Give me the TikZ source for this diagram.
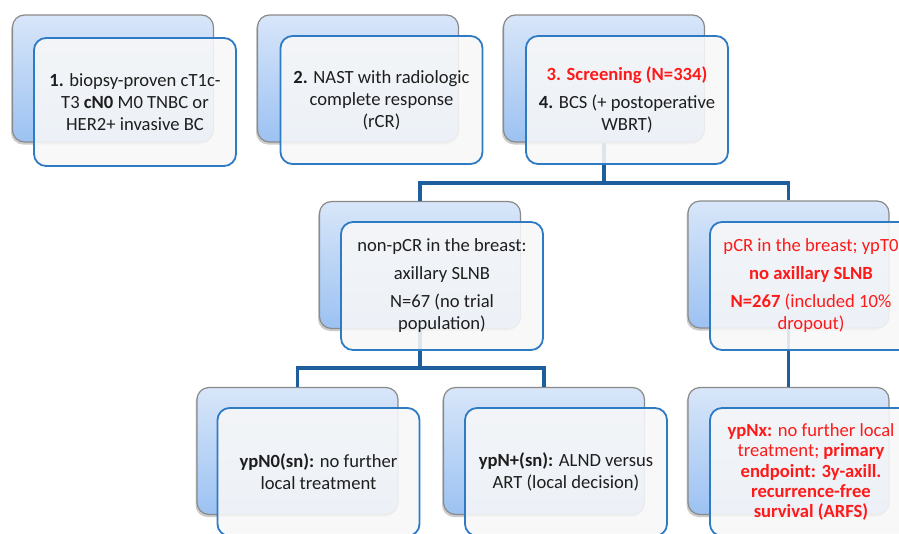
\documentclass[tikz,border=0pt]{standalone}
\usepackage{fontspec}
\setmainfont{Carlito}
\usetikzlibrary{shadows}
\definecolor{txt}{HTML}{1E1E1E}
\definecolor{red1}{HTML}{FF1A1A}
\definecolor{backline}{HTML}{8A8A8A}
\definecolor{frontline}{HTML}{2E7BC4}
\definecolor{conncol}{HTML}{1F5E9C}
\definecolor{topblue}{HTML}{D8E6F9}
\definecolor{botblue}{HTML}{9CC2F2}
\definecolor{frontfill}{HTML}{F8F8F8}
\tikzset{
 backbox/.style={draw=backline, line width=1.2pt, rounded corners=12pt, minimum width=201pt, minimum height=127pt, inner sep=0pt, top color=topblue, bottom color=botblue, drop shadow={shadow xshift=-1.5pt, shadow yshift=-2.5pt, opacity=0.4}},
 frontbox/.style={draw=frontline, line width=1.8pt, rounded corners=12pt, minimum width=202pt, minimum height=128pt, inner sep=4pt, fill=frontfill, fill opacity=0.88, text opacity=1, align=center, text=txt, font=\fontsize{18.6}{22}\selectfont},
 connector/.style={draw=conncol, line width=3.5pt},
}
\begin{document}
\begin{tikzpicture}[x=1pt,y=-1pt]
\useasboundingbox (0,0) rectangle (899,533);
\clip (0,0) rectangle (899,533);
\fill[white] (0,0) rectangle (899,533);
% back boxes
\node[backbox] (b1) at (113,78.5) {};
\node[backbox] (b2) at (358,78.5) {};
\node[backbox] (b3) at (604,78.5) {};
\node[backbox] (bA) at (420,265) {};
\node[backbox] (bB) at (788.5,264.5) {};
\node[backbox] (bC) at (297.5,451) {};
\node[backbox] (bD) at (544,451) {};
\node[backbox] (bE) at (788.5,451) {};
% connectors
\coordinate (j1) at (604,183);
\coordinate (j2) at (420,368);
\draw[connector] (b3.south) -- (j1);
\draw[connector] (bA.north) |- (j1) -| (bB.north);
\draw[connector] (bA.south) -- (j2);
\draw[connector] (bC.north) |- (j2) -| (bD.north);
\draw[connector] (bB.south) -- (bE.north);
% front boxes
\node[frontbox] (f1) at (135,102) {\textbf{1.} biopsy-proven cT1c-\\T3 \textbf{cN0} M0 TNBC or\\HER2+ invasive BC};
\node[frontbox] (f2) at (381.5,100) {\textbf{2.} NAST with radiologic\\complete response\\(rCR)};
\node[frontbox] (f3) at (627,100) {{\color{red1}\bfseries 3. Screening (N=334)}\\[6pt]\textbf{4.} BCS (+ postoperative\\WBRT)};
\node[frontbox] (fA) at (442,286) {non-pCR in the breast:\\[6pt]axillary SLNB\\[6pt]N=67 (no trial\\population)};
\node[frontbox, text=red1] (fB) at (811,286) {pCR in the breast; ypT0\\[6pt]\textbf{no axillary SLNB}\\[6pt]\textbf{N=267} (included 10\%\\dropout)};
\node[frontbox] (fC) at (318.5,472) {\textbf{ypN0(sn):} no further\\local treatment};
\node[frontbox] (fD) at (566,472) {\textbf{ypN+(sn):} ALND versus\\ART (local decision)};
\node[frontbox, text=red1, font=\fontsize{18.6}{20.3}\selectfont] (fE) at (811,472) {\textbf{ypNx:} no further local\\treatment; \textbf{primary}\\\textbf{endpoint: 3y-axill.}\\\textbf{recurrence-free}\\\textbf{survival (ARFS)}};
\end{tikzpicture}
\end{document}
